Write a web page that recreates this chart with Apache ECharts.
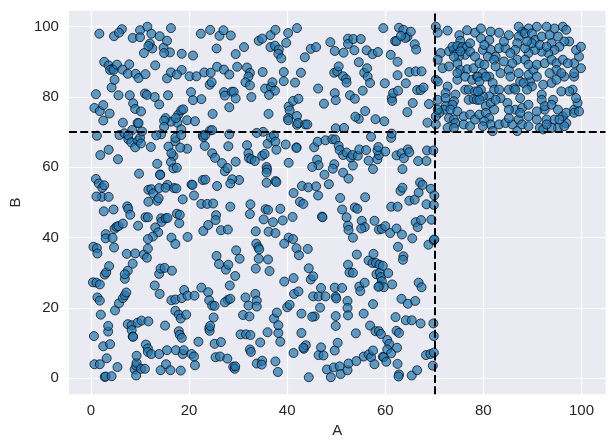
<!DOCTYPE html>
<html>
<head>
<meta charset="utf-8">
<script src="https://cdn.jsdelivr.net/npm/echarts@6/dist/echarts.min.js"></script>
<style>
  html, body { margin: 0; padding: 0; background: #fff; }
  #chart { width: 615px; height: 448px; }
</style>
</head>
<body>
<div id="chart"></div>
<script>
// values, [A, B]
const upperLeft = [
  [1.7,98],[4.7,97.3],[6.3,99.3],[5.7,98.3],[8.5,96.8],[10,99],[10,97],[11.5,100],[12.3,98],[12,95.2],[14,97.3],[14.8,94],[15.5,96],[16.3,99.6],[16.1,92.7],[12.5,93.8],[11.7,94.5],[10.8,92.5],[14.9,92.5],
  [22.4,98],[24.3,99.1],[26.2,97.4],[27,99],[28.5,97.5],[25.6,93.8],[29.5,92.2],[31.2,94.2],
  [34.2,96],[34.9,96.6],[36.6,97.6],[37.6,99.1],[36.6,94.2],[37.5,94.6],[38.3,93.5],[38.2,92.3],[38.8,91],[39.8,95.4],[40.2,98.2],[42,99.6],[43.6,91.3],[44.8,93.7],[45.9,94.2],
  [48.8,95.6],[49.7,93.1],[51.5,92.6],[52.4,96.6],[52.4,95.1],[53.5,96.5],[55,96.5],[53.7,93.3],[56.2,93.3],[57.4,92.2],[58.5,92.8],[59.6,99.6],[61.1,92],[62,95.9],[62.3,95.9],[62.8,99.7],[63.7,99.1],[64.5,97.1],[65.2,98.6],[64.1,96.8],[63.2,97.4],[66,95],[66.3,93.5],
  [2.7,90],[3.6,89],[4.3,88],[3.9,87.7],[4.6,87.7],[5.3,89.2],[7.8,89.3],[6.4,87.8],[7.5,86.6],[9.1,86.6],[9.7,85.4],[11.1,86.5],[13.1,89],[4.2,82.7],[4.8,84.9],[5.6,80.5],[7.9,80.5],[11,81],[11.4,80.6],[13,80],[15.5,85.3],[15.7,80.5],[13.9,77.9],[8.6,78.2],[1,80.8],[0.7,76.9],[1.8,76],[2.5,77.7],[2.5,73.3],[3.8,75.3],[9,76.6],[10.2,75.9],[9.5,72.6],[9.7,72.6],[6.5,72.7],[8.4,70.6],
  [16.3,87],[18.5,87.7],[18.5,92.3],[20.8,91.8],[17.5,86.4],[20.1,85.9],[21.5,85.9],[23.1,87],[24.4,86.9],[24.2,83.5],[24.6,84.2],[20.4,81.4],[22.5,79.4],[20.8,79.1],[24.8,75.2],[27.1,81.4],[27.3,80.4],[28.7,81.5],[29.1,81.5],[29.5,79.6],[28.2,77.1],[25.7,88.6],[27.1,87.8],[28.2,86.4],[29.8,88.6],[31.8,88.4],[32.4,86.9],[32.1,85.8],[31.5,84.2],[32.4,83.3],[32.7,80],[35,87.1],[35.5,82.4],[36.7,82.9],[37,84.2],[37.5,81.8],[36.3,80.6],[36.2,75.2],[39.3,84.5],[39.3,87.1],[41.6,84.1],[42.8,86.9],[40.3,77.3],[40.5,76.2],[40.2,74],[40.2,73.4],[41.2,78.9],[42.3,79.5],[42,74.6],[42,72.1],[42.2,72.6],[43.7,72.2],[44.1,72.2],[46.3,82.4],[47.5,78.1],[49.6,86.9],[50.2,87.3],[50.5,88.7],[51.4,85.9],[52,85.1],[52.1,84.1],[49.7,81.1],[49.9,79.1],[52.8,80.5],[53.8,79.5],[54.6,89.9],[55.7,86.9],[56.3,88.2],[56.4,85.8],[56.9,84],[55.4,81.8],[54.6,73.8],[53.9,74.4],[55.9,76],[49.9,71.1],[51.6,71.2],[58,73.7],[59.8,73.1],[59.9,83.9],[61.3,79.7],[61.4,78.9],[61.6,81.1],[62.6,81.8],[62.5,86.2],[62.5,90],[64.2,83.9],[64.9,87.1],[66.2,87.3],[67.4,87.3],[66.5,82],[67.2,82],[67.8,82.7],[65.6,78.3],[64.5,75.7],[68.9,78],[68.6,72.7],[19.6,73.4],[17.6,72.7],[16.3,73],[15.2,74],[14.9,73.3],[14.9,71.5],[14.3,69.4],[17.8,75],[18.4,76.2],[18.8,76.5],[17.3,74],[18.4,70.8],[21.2,73.1],[24.3,70.5],[24.7,70.6],[35.1,70.1]
];

const middleLeft = [
  [1.2,69],[1.9,63.5],[3.6,65],[5.5,62.3],[5.8,69.2],[6.8,69.7],[7.6,68],[7.6,69.1],[8.2,67.1],[9,65.7],[9.6,67.6],[10,68.4],[10.2,66.8],[10.4,70.2],[12.2,65.8],[13.5,61],[14.1,58],[14.1,57.8],[9.8,58.2],[13.3,69.1],[15.8,65.9],[17.2,67.4],[17.2,68.4],[16.8,63.2],[16.3,61.5],[16.8,59.7],[17.5,59.9],[16.4,64],[18.4,69.2],[19.6,65.3],[18.2,65.6],[15.6,55],[16.9,54.1],[20.5,55.1],[21,52],[22.8,56.4],[23.3,56.5],[22.8,69.1],[22.9,68.6],[23.2,66.1],[23.3,69.2],[24.7,64],[25.3,62.7],[26.7,61.2],[27.3,58.9],[27.8,59.8],[28,66],[28.2,69.4],[29.5,61.6],[30.2,56.4],[28.8,56.6],[28.4,55.4],[31.8,66.3],[32.1,64],[32.2,62.6],[32.7,62.3],[33.4,61.8],[33.8,69.8],[34.9,63.3],[35.4,63.8],[36,66.7],[36.7,68.5],[37.3,69.1],[37.6,67.3],[37.8,65],[35.8,60.1],[35.9,59.4],[35.8,58.5],[35.8,55.6],[37.6,56.1],[37.8,55.8],[39.7,66.5],[40.3,61.3],[41.9,65.7],[41.9,65.5],[45.5,65.7],[46.2,67.3],[46.1,62.2],[46.4,60.6],[45.1,60.1],[47.6,57.9],[48.5,55.2],[47.8,67.7],[49.2,68],[49.8,67.9],[50.5,66.1],[50.7,64.9],[51.4,63.5],[52.1,64.2],[53,62.8],[53.4,60.5],[53.3,63.5],[49.6,60.9],[49.3,59.6],[51.4,58.5],[52.5,56.8],[54.4,63.3],[54.7,65.1],[56.1,64.9],[56.6,61.9],[57.1,68.7],[57.5,59.5],[58.4,62.3],[58.7,63.5],[58.4,64.8],[58.6,65.8],[60,64.5],[61.2,68.4],[61.3,69.6],[62.3,63.4],[63.3,64],[63.8,62.6],[63.5,59.5],[64.6,65.1],[64.9,64.3],[66.7,61.8],[68.4,61.8],[68.5,64.8],[69.8,64.8],
  [1,56.7],[1.6,55.4],[2.3,54.2],[2.7,54.9],[2.2,51.6],[1.1,51.7],[3.6,51.6],[2.6,47.5],[4.6,48],[3,41],[3,39.8],[4.4,39.9],[4.7,37.2],[4.8,42.5],[5.2,43.1],[5.6,43.3],[6.5,44],[7.4,48.9],[7.6,48.2],[8,46.5],[9.6,43.4],[11.1,45.8],[11.6,45.8],[11.7,53.6],[12.3,53.8],[12.7,52.6],[13.5,50.5],[13.8,51.2],[11.7,50.2],[13.9,54.1],[15.2,54.2],[14.3,45.5],[14.4,44.5],[13.1,42.9],[13.7,41.5],[12.6,40.3],[11.6,39.6],[15.2,45.5],[15.6,45.6],[16.4,40],[17.2,38.2],[17.5,46.8],[18,44.1],[18.1,46.5],[18.7,50.9],[17.4,54],[19.7,40.2],[20.7,55],[22.5,49.6],[23.7,49.6],[24.9,49.7],[25.5,46.4],[25.4,45],[22.9,41.9],[23.9,43.6],[25.7,54.7],[26.5,42.1],[27.9,42.3],[28.4,48.8],[32.5,49.5],[32.4,46.7],[33.6,41.8],[35.2,45.2],[35.6,48.1],[36.1,47.9],[36.2,41.7],[37.1,44.4],[37.6,41.3],[38.6,48.2],[39.1,44.9],[40.3,40],[41.2,39.6],[39.4,38.3],[41.3,52.7],[41.1,45.9],[42.6,50.2],[43.3,49.6],[43,54.7],[44.3,54.3],[45.9,54.6],[46.3,52],[47.1,46],[47.2,45.8],[50.8,51.3],[51.2,48],[52.1,45.8],[52.4,43.4],[52.5,42.2],[53.4,40],[53.8,48.6],[54.3,48.2],[55.9,51.5],[55.2,44.8],[55.8,43],[55.1,42.6],[57.8,44.8],[58.7,42.3],[59.3,42.5],[60,43.3],[61,41.3],[61.2,48.8],[62.5,48.8],[62.3,42.6],[62.6,37.4],[63.1,53.3],[63.5,54.2],[63.4,40.9],[64.9,50.5],[65.5,39.8],[66,50.8],[66.8,52.8],[67.1,55.7],[67.6,55],[66.2,44.4],[66.6,43],[67.3,45],[68.4,49.5],[68.8,38],[69.3,53.9],[69.4,45.1],[70,52],[69.9,49.3],[69.9,39.3],[70,39.5]
];

const lowerLeft = [
  [0.5,37.4],[1.2,37],[1.3,35.5],[0.4,27.3],[1.1,27.2],[1.8,26.7],[1.3,23],[1.8,22.1],[2.8,29.5],[3.1,30.1],[3.7,31.9],[4.9,19.3],[5.7,21.3],[6.5,22.8],[6.9,23.6],[7.2,24.4],[6.9,28.3],[7.5,30.6],[6.9,29.6],[7.3,35.4],[8.5,32.6],[9,35.5],[10.8,35.2],[11.4,34.3],[11.6,36.9],[13,26.4],[14,24],[13.9,29.7],[14.2,31.2],[15,31.4],[16.5,30.6],[16.4,22.2],[17.2,19.2],[17.9,18.1],[17.2,22.4],[18.5,22.8],[19,25.1],[19.7,23.5],[21.1,23.5],[22.5,25.8],[23.9,24.5],[24.1,22.2],[24.7,20.7],[25.2,20.6],[25.6,34.8],[26.1,32.5],[27.5,30.9],[28,32.3],[27.9,22.3],[27.3,21.6],[28.4,22.6],[28.3,26.4],[29.4,29.1],[29.6,36.4],[30.3,34],[31,18],[31.5,23],[32.1,20.7],[32.3,17.6],[33.5,24],[33.8,22.1],[33.8,20.4],[33.7,38.3],[34.1,37.3],[34.3,36.7],[34.2,34],[33.6,31.2],[36.1,33.8],[36.4,30.5],[37.3,17],[37.9,18.7],[39.4,27.5],[40,20.2],[40.5,20.9],[41.3,28.5],[41.4,24],[41.9,37],[42.4,35],[42.3,24.7],[42.9,18.4],[44.2,36.8],[44.4,31.3],[44.8,28.1],[45.3,29],[45.3,23.3],[46.4,23.3],[45.6,17.6],[46.7,20.1],[46.9,25.7],[47.8,23.3],[49.7,25.8],[49.9,23.2],[50,22.7],[51.2,25.7],[49.9,17.7],[52.4,32.3],[52.7,30.1],[53.4,30],[52.3,22],[52.3,20],[52.4,17.9],[54.2,35.2],[54.7,26.1],[54.9,24.8],[55.8,27.2],[55.6,18.4],[56.6,33.5],[57.4,32.8],[57.6,35.4],[58.1,32.8],[58.2,29.6],[58.8,32.3],[58.9,30],[59.1,28.8],[59.3,27.6],[59.5,32],[58.8,26.2],[59.7,25.9],[58.6,26],[57.5,21.1],[60.6,29.9],[61.4,26.7],[62.1,17.4],[63.7,34.7],[63.6,33.7],[63.3,22.6],[64.6,21.2],[66.1,22],[66.8,27.2],[67.4,25.9],
  [0.6,12],[0.7,4],[1.8,4],[2,18.1],[2.5,9.1],[2.8,0.4],[3,0.5],[3.2,5.7],[3.5,13.3],[3.5,14.9],[3.9,9.7],[4.2,0.6],[5.4,3.2],[7.5,15.4],[8.3,15.1],[8.3,13.7],[8.5,11.9],[8.6,11.8],[8.9,2.5],[9.2,3.6],[9.3,4.4],[9.2,0.8],[9.3,6.4],[9.5,15.8],[10.2,2.7],[10.3,16.4],[11,2.7],[11.2,9.6],[11.6,8.5],[11.7,16.2],[11.6,7.5],[12.3,6.9],[13.9,6.9],[14.2,2.3],[15.1,15],[15.3,4],[15.5,8],[16.2,2.3],[17.3,8],[17.9,13.4],[18.1,12.4],[18.5,11.5],[18.3,17],[18.7,6.9],[18.3,2.2],[18.9,8],[19.4,18.1],[20.5,6.9],[21,6.2],[21.2,3.7],[21.9,10.4],[24.1,14.2],[24.2,13.5],[24.3,14.9],[25,17.3],[25.2,9.8],[25.4,6],[26.3,6.2],[26.5,10.3],[27.8,5.6],[29,3.3],[29.3,2.7],[29.4,3.4],[30.5,12.5],[31.6,12.5],[32.5,12.3],[32.4,8.2],[32.6,7.5],[33.8,4.2],[34.5,10.2],[34.9,5],[34.8,3.9],[36,13.1],[37.6,4.8],[38.1,1.8],[38.2,12.9],[38.6,10.4],[38.2,15.1],[41.3,7.2],[42.9,12.9],[43.4,8.4],[43.8,9.4],[43.3,8.7],[44.4,0.3],[45.1,17.5],[46.4,6.6],[46.9,8.8],[47.4,6.5],[48.1,2.5],[48.9,0.3],[49.5,3.1],[49.7,7.9],[49.9,14.9],[50.3,10.1],[50.7,3.4],[50.9,1.2],[52.3,2.3],[52.5,4.2],[54,12.8],[54.1,4.9],[55.6,6.2],[56.6,6.8],[57.1,6],[57.5,7.9],[57.8,4],[56.9,15],[58,13.4],[58.7,13.4],[59.1,12.6],[59.5,6.1],[59.7,6],[60.4,10.9],[60.8,9.8],[60.4,8.2],[60.2,4.7],[61.2,7.1],[62.4,8.7],[62.5,4.1],[62.8,1.1],[62.7,0.5],[62.3,13.5],[62.8,12.9],[64.2,16.5],[65.4,16.5],[65.4,0.8],[66.5,2.3],[67.2,15.6],[68.3,6.6],[69.2,6.9],[69.8,15.6],[69.9,12],[69.9,7.3],[69.7,3.6]
];

const upperRight = [
  [70.3,100],[70.7,98.3],[72.7,98.9],[75.1,97.6],[75.3,96],[76.7,99],[78.3,98.3],[71.3,92.5],[73,93],[74,93.4],[73.7,94.3],[74.7,94.5],[75.7,94.2],[76.7,94.3],[77.3,95.3],[76.3,92],[75,91.5],[77.3,92.9],[78.3,91.5],[70.7,90.6],[71.7,88.2],[73,88.7],[74.7,89.6],[75.3,87.7],[76.7,87.9],[78,88.2],[70.3,84.9],[70.7,84.4],[72.7,83],[74.7,84.9],[74.7,86.8],[76.3,85.8],[77.7,84.9],[76.3,82.1],[77,82.1],[78.3,81.6],[72.3,81.1],[74.3,80.7],[70.7,79.2],[72.3,79.7],[74,78.8],[77,79.2],[78,79.4],[72.3,77.4],[73.7,77.8],[72,76.4],[71,75.5],[73.3,76.4],[74.7,75.9],[76,74.5],[77.3,75],[70.3,74.5],[73,74],[74,73.6],[74.3,72.6],[76,72.2],[77.3,71.7],[78.3,73.6],[70.3,72.2],[72.7,71.2],[74,71.2],[70.7,76.4],[78.7,79.2],[78.7,85.8],[75.3,93],[74,91.5],
  [79.5,99.5],[81.5,98.6],[83.2,98.3],[81.2,96.2],[79.5,96.7],[79.9,93.4],[81.5,93.4],[80.2,94.8],[83.2,93.9],[84.5,93.9],[82.5,91.5],[80.9,91.5],[82.2,90.6],[79.2,89.6],[80.2,89.2],[79.9,86.8],[78.9,85.8],[79.2,84.4],[81.2,85.8],[81.9,84],[83.5,86.8],[85.2,87.7],[85.5,85.8],[87.2,86.8],[87.5,84.4],[86.2,82.5],[85.2,82.1],[82.2,82.1],[81.2,80.2],[79.9,80.2],[79.2,79.2],[80.5,77.4],[81.5,78.3],[82.2,76.4],[79.2,75],[80.5,75.5],[81.2,74],[80.2,73.1],[81.5,72.2],[83.2,72.2],[84.5,72.6],[85.9,72.2],[86.9,70.3],[85.2,74],[87.2,73.6],[86.5,76.4],[87.9,76.9],[84.9,78.3],[87.5,79.7],[89.2,77.8],[89.5,84.4],[89.2,86.3],[90.2,87.7],[90.9,85.8],[89.9,83],[91.9,80.7],[92.2,83.5],[93.9,84],[94.2,79.2],[91.9,79.2],[92.5,76.4],[90.9,75.9],[89.2,74.5],[90.9,73.6],[92.9,73.6],[94.5,73.6],[91.5,71.2],[92.2,70.8],[95.2,71.2],[96.9,72.6],[96.5,71.7],[98.5,76.4],[99.2,78.3],[98.9,79.7],[98.2,82.1],[97.5,81.6],[95.9,81.6],[96.5,85.8],[98.5,85.8],[99.9,88.2],[98.5,89.6],[99.5,91.5],[98.9,93.4],[99.9,94.3],[97.5,95.8],[96.5,95.8],[95.2,97.2],[96.2,100],[96.9,99.1],[94.5,99.5],[92.9,100],[90.9,100],[89.2,99.5],[87.9,98.6],[87.2,97.2],[88.5,98.1],[89.9,98.1],[90.5,96.2],[91.9,97.2],[93.5,97.6],[93.9,95.3],[95.5,94.3],[94.5,93.4],[93.2,92.5],[91.9,92.9],[90.5,93.4],[89.2,92.5],[88.5,93.9],[86.9,95.3],[86.5,93.4],[86.9,90.6],[88.5,90.6],[89.2,89.2],[90.9,89.2],[92.5,89.6],[93.9,90.6],[94.9,89.6],[96.2,90.6],[94.9,87.7],[95.9,86.8],[93.5,86.8],[94.9,84.9],[97.2,89.6],[98.5,86.8],[92.5,77.4],[93.9,77.8],[95.2,76.4],[96.2,74.5],[96.9,75.5],[93.9,71.2],[92.9,72.2],[95.5,73.6],[98.5,75.5],[99.5,75.9],[86.5,82.1],[88.2,84],[88.9,82.1],[83.2,82.1],[83.5,79.7],[82.5,79.2],[79.5,82.1],[78.9,81.6],[85.2,76.4],[87.5,75.5],[87.9,72.2],[89.2,71.7],[79.9,71.7],[81.9,70.3],[80.5,85.8],[82.5,88.7],[84.2,90.1],[85.9,89.6],[85.5,92.5],[89.9,95.3],[91.5,94.8],[92.9,94.3],[87.2,100],[88.9,95.8],[84.2,95.8],[85.2,97.6]
];

const xTicks = [0, 20, 40, 60, 80, 100];
const yTicks = [0, 20, 40, 60, 80, 100];
const cutA = 70;
const cutB = 70;

const allPoints = upperLeft.concat(middleLeft, lowerLeft, upperRight);

const myChart = echarts.init(document.getElementById('chart'), null, { renderer: 'canvas' });

const labelStyle = {
  color: '#262626',
  fontFamily: 'Liberation Sans, Arial, sans-serif',
  fontSize: 15
};

const option = {
  animation: false,
  backgroundColor: '#ffffff',
  grid: {
    left: 63.5,
    right: 9.5,
    top: 10.7,
    bottom: 53.7,
    show: true,
    backgroundColor: '#EAEAF2',
    borderWidth: 0
  },
  xAxis: {
    type: 'value',
    min: -4.5,
    max: 104.9,
    name: 'A',
    nameLocation: 'middle',
    nameGap: 28,
    nameTextStyle: labelStyle,
    axisLine: { show: false },
    axisTick: { show: false, customValues: xTicks },
    axisLabel: { customValues: xTicks, margin: 9, ...labelStyle },
    splitLine: { show: true, lineStyle: { color: '#ffffff', width: 1.2 } }
  },
  yAxis: {
    type: 'value',
    min: -4.55,
    max: 104.55,
    name: 'B',
    nameLocation: 'middle',
    nameGap: 41,
    nameTextStyle: labelStyle,
    axisLine: { show: false },
    axisTick: { show: false, customValues: yTicks },
    axisLabel: { customValues: yTicks, margin: 10, ...labelStyle },
    splitLine: { show: true, lineStyle: { color: '#ffffff', width: 1.2 } }
  },
  series: [
    {
      type: 'scatter',
      data: allPoints,
      symbol: 'circle',
      symbolSize: 9,
      itemStyle: {
        color: '#1f77b4',
        borderColor: '#000000',
        borderWidth: 1,
        opacity: 0.7
      },
      z: 2
    },
    {
      // dashed threshold lines
      type: 'line',
      data: [],
      z: 5,
      markLine: {
        silent: true,
        symbol: ['none', 'none'],
        label: { show: false },
        lineStyle: { color: '#000000', width: 2, type: [8, 3.3] },
        data: [{ xAxis: cutA }, { yAxis: cutB }]
      }
    }
  ]
};

myChart.setOption(option);

window.addEventListener('resize', () => {
  myChart?.resize()
});
</script>
</body>
</html>
